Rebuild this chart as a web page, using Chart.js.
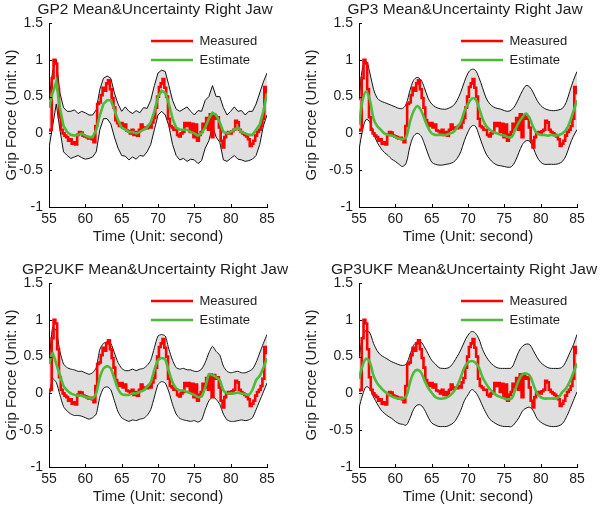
<!DOCTYPE html>
<html><head><meta charset="utf-8">
<script src="https://cdn.jsdelivr.net/npm/chart.js@4/dist/chart.umd.min.js"></script>
<style>
html,body{margin:0;padding:0;background:#fff;overflow:hidden;width:600px;height:507px;position:relative}
canvas{position:absolute}
</style></head><body>
<canvas id="c0" width="300" height="250" style="left:0;top:0"></canvas>
<canvas id="c1" width="300" height="250" style="left:300px;top:0"></canvas>
<canvas id="c2" width="300" height="250" style="left:0;top:260px"></canvas>
<canvas id="c3" width="300" height="250" style="left:300px;top:260px"></canvas>
<script>
// ---------- data ----------
const titles = ['GP2 Mean&Uncertainty Right Jaw','GP3 Mean&Uncertainty Right Jaw','GP2UKF Mean&Uncertainty Right Jaw','GP3UKF Mean&Uncertainty Right Jaw'];
const xTitle = 'Time (Unit: second)';
const yTitle = 'Grip Force (Unit: N)';
const legendLabels = ['Measured','Estimate'];
const xTicks = [55,60,65,70,75,80,85];
const yTicks = [-1,-0.5,0,0.5,1,1.5];

const timeFine = [55,55.25,55.5,55.75,56,56.25,56.5,56.75,57,57.25,57.5,57.75,58,58.25,58.5,58.75,59,59.25,59.5,59.75,
60,60.25,60.5,60.75,61,61.25,61.5,61.75,62,62.25,62.5,62.75,63,63.25,63.5,63.75,64,64.25,64.5,64.75,
65,65.25,65.5,65.75,66,66.25,66.5,66.75,67,67.25,67.5,67.75,68,68.25,68.5,68.75,69,69.25,69.5,69.75,
70,70.25,70.5,70.75,71,71.25,71.5,71.75,72,72.25,72.5,72.75,73,73.25,73.5,73.75,74,74.25,74.5,74.75,
75,75.25,75.5,75.75,76,76.25,76.5,76.75,77,77.25,77.5,77.75,78,78.25,78.5,78.75,79,79.25,79.5,79.75,
80,80.25,80.5,80.75,81,81.25,81.5,81.75,82,82.25,82.5,82.75,83,83.25,83.5,83.75,84,84.25,84.5,84.75,85];

const measured = [0.04,0.05,0.75,1.00, 0.95,0.60,0.22,0.05, 0.00,-0.03,-0.05,-0.10, -0.08,-0.14,-0.12,-0.15, -0.02,0.02,0.01,-0.03,
-0.04,-0.05,-0.07,-0.06, -0.08,-0.12,0.10,0.40, 0.42,0.52,0.62,0.58, 0.68,0.72,0.60,0.48, 0.35,0.18,0.14,0.10,
0.14,0.08,0.12,0.04, 0.03,0.00,0.05,-0.02, 0.02,-0.03,0.05,0.12, 0.06,0.08,0.07,0.10, 0.08,0.15,0.21,0.35,
0.50,0.63,0.68,0.74, 0.62,0.50,0.20,0.10, 0.08,0.05,0.05,-0.02, -0.04,0.00,0.02,0.14, 0.10,0.14,0.02,0.13,
-0.05,0.12,-0.10,-0.02, 0.02,0.13,0.08,0.21, 0.05,0.26,-0.05,0.25, 0.20,0.22,0.08,-0.10, -0.19,-0.05,0.00,0.02,
0.00,0.03,0.05,0.17, 0.15,0.05,0.02,0.00, -0.02,-0.04,-0.08,-0.17, -0.14,-0.10,-0.03,0.02, 0.05,0.10,0.20,0.63, 0.55];

const timeCoarse = [55,55.5,56,56.5,57,57.5,58,58.5,59,59.5,60,60.5,61,61.5,62,62.5,63,63.5,64,64.5,
65,65.5,66,66.5,67,67.5,68,68.5,69,69.5,70,70.5,71,71.5,72,72.5,73,73.5,74,74.5,
75,75.5,76,76.5,77,77.5,78,78.5,79,79.5,80,80.5,81,81.5,82,82.5,83,83.5,84,84.5,85];

const gp2Estimate = [0.35,0.55,0.70,0.35,0.10,0.02,-0.02,-0.03,-0.02,0.00,-0.03,-0.05,-0.05,0.05,0.25,0.40,0.45,0.45,0.32,0.18,
0.08,0.05,0.02,0.02,0.00,0.02,0.05,0.08,0.15,0.30,0.50,0.58,0.55,0.40,0.20,0.08,0.05,0.05,0.05,0.02,
0.00,-0.03,0.00,0.08,0.20,0.28,0.25,0.15,0.02,0.00,0.02,0.05,0.08,0.02,0.00,-0.02,-0.02,0.05,0.12,0.30,0.55];
const gp2Upper = [0.45,0.85,1.00,0.55,0.35,0.30,0.30,0.32,0.27,0.30,0.28,0.25,0.25,0.32,0.60,0.75,0.78,0.75,0.55,0.40,
0.30,0.36,0.30,0.27,0.31,0.28,0.35,0.34,0.45,0.65,0.82,0.86,0.84,0.65,0.45,0.33,0.30,0.33,0.36,0.30,
0.25,0.31,0.30,0.45,0.50,0.65,0.50,0.50,0.35,0.25,0.30,0.36,0.30,0.31,0.25,0.30,0.30,0.40,0.55,0.70,0.82];
const gp2Lower = [-0.20,0.10,0.40,0.05,-0.25,-0.30,-0.34,-0.32,-0.30,-0.33,-0.35,-0.34,-0.32,-0.25,0.05,0.20,0.20,0.13,-0.05,-0.20,
-0.30,-0.31,-0.36,-0.32,-0.35,-0.30,-0.31,-0.25,-0.15,0.05,0.25,0.30,0.25,0.10,-0.15,-0.30,-0.36,-0.34,-0.38,-0.35,
-0.36,-0.41,-0.37,-0.20,-0.10,0.10,-0.05,-0.12,-0.36,-0.38,-0.34,-0.30,-0.35,-0.36,-0.38,-0.37,-0.35,-0.30,-0.15,0.10,0.25];

const gp3Estimate = [0.12,0.45,0.57,0.45,0.20,0.10,0.05,0.00,-0.02,-0.03,-0.05,-0.07,-0.08,-0.05,0.15,0.30,0.37,0.32,0.20,0.08,
0.00,-0.02,-0.02,-0.02,-0.02,0.00,0.02,0.08,0.15,0.30,0.40,0.47,0.47,0.35,0.20,0.10,0.05,0.02,0.00,-0.02,
-0.03,-0.05,-0.05,0.05,0.15,0.22,0.27,0.20,0.08,0.00,-0.02,-0.02,-0.03,-0.02,-0.03,-0.02,0.00,0.05,0.15,0.30,0.45];
const gp3Upper = [0.45,0.90,0.98,0.82,0.60,0.48,0.44,0.42,0.40,0.38,0.36,0.34,0.34,0.40,0.58,0.72,0.76,0.73,0.62,0.48,
0.40,0.36,0.34,0.33,0.33,0.35,0.38,0.45,0.56,0.70,0.82,0.87,0.86,0.76,0.62,0.48,0.40,0.36,0.34,0.33,
0.31,0.30,0.32,0.38,0.48,0.58,0.65,0.63,0.55,0.45,0.38,0.34,0.32,0.31,0.31,0.32,0.34,0.42,0.57,0.72,0.84];
const gp3Lower = [-0.23,0.05,0.19,0.15,0.00,-0.12,-0.20,-0.26,-0.30,-0.35,-0.38,-0.42,-0.45,-0.40,-0.18,-0.04,0.00,-0.03,-0.14,-0.28,
-0.39,-0.42,-0.43,-0.43,-0.42,-0.41,-0.39,-0.34,-0.25,-0.10,0.02,0.10,0.10,-0.02,-0.16,-0.28,-0.35,-0.40,-0.43,-0.44,
-0.45,-0.46,-0.45,-0.38,-0.26,-0.15,-0.10,-0.11,-0.20,-0.32,-0.39,-0.42,-0.42,-0.42,-0.42,-0.41,-0.38,-0.30,-0.16,-0.04,0.05];

const gp2ukfEstimate = [0.40,0.55,0.40,0.25,0.10,0.04,0.00,-0.02,-0.03,-0.03,-0.05,-0.06,-0.07,0.00,0.22,0.34,0.37,0.34,0.20,0.06,
-0.01,-0.02,-0.02,0.00,0.00,0.02,0.04,0.09,0.15,0.32,0.45,0.48,0.46,0.30,0.15,0.07,0.04,0.04,0.02,0.00,
-0.02,-0.05,-0.04,0.08,0.26,0.25,0.22,0.18,0.04,0.00,0.00,0.00,0.01,0.00,-0.01,-0.02,0.05,0.18,0.24,0.35,0.48];
const gp2ukfUpper = [0.40,0.90,0.85,0.57,0.40,0.35,0.33,0.32,0.30,0.30,0.28,0.26,0.28,0.35,0.60,0.68,0.70,0.68,0.55,0.42,
0.34,0.31,0.31,0.33,0.31,0.33,0.34,0.38,0.45,0.62,0.78,0.80,0.78,0.60,0.45,0.35,0.33,0.34,0.32,0.32,
0.30,0.30,0.33,0.42,0.55,0.64,0.57,0.52,0.37,0.30,0.28,0.29,0.30,0.28,0.28,0.30,0.33,0.42,0.55,0.68,0.80];
const gp2ukfLower = [-0.05,0.20,0.15,-0.02,-0.18,-0.24,-0.28,-0.30,-0.30,-0.31,-0.33,-0.35,-0.33,-0.28,-0.05,0.07,0.09,0.05,-0.10,-0.25,
-0.33,-0.36,-0.38,-0.36,-0.37,-0.35,-0.34,-0.30,-0.22,-0.05,0.12,0.16,0.14,0.02,-0.15,-0.28,-0.34,-0.36,-0.37,-0.38,
-0.37,-0.39,-0.36,-0.22,-0.10,-0.05,-0.08,-0.15,-0.28,-0.36,-0.38,-0.38,-0.37,-0.36,-0.37,-0.36,-0.33,-0.22,-0.10,0.02,0.14];

const gp3ukfEstimate = [0.20,0.38,0.47,0.42,0.24,0.14,0.08,0.03,-0.01,-0.04,-0.06,-0.07,-0.07,-0.04,0.14,0.28,0.32,0.29,0.18,0.08,
0.01,-0.05,-0.07,-0.07,-0.06,-0.03,0.02,0.10,0.22,0.35,0.42,0.44,0.42,0.35,0.22,0.13,0.06,0.01,-0.03,-0.05,
-0.07,-0.08,-0.07,0.05,0.18,0.26,0.27,0.24,0.12,0.00,-0.05,-0.07,-0.07,-0.07,-0.07,-0.05,0.02,0.07,0.16,0.28,0.41];
const gp3ukfUpper = [0.48,0.76,0.86,0.82,0.68,0.58,0.52,0.49,0.46,0.43,0.41,0.39,0.38,0.40,0.52,0.65,0.70,0.70,0.63,0.54,
0.45,0.40,0.35,0.34,0.34,0.36,0.42,0.50,0.59,0.70,0.79,0.84,0.82,0.74,0.60,0.50,0.43,0.38,0.35,0.34,
0.34,0.34,0.35,0.45,0.57,0.64,0.67,0.66,0.58,0.49,0.42,0.38,0.35,0.34,0.34,0.34,0.36,0.44,0.55,0.66,0.80];
const gp3ukfLower = [-0.20,-0.02,0.09,0.06,-0.05,-0.14,-0.22,-0.27,-0.31,-0.34,-0.38,-0.41,-0.42,-0.43,-0.34,-0.22,-0.16,-0.16,-0.22,-0.32,
-0.40,-0.43,-0.45,-0.45,-0.45,-0.43,-0.40,-0.33,-0.23,-0.10,-0.02,0.05,0.02,-0.06,-0.17,-0.27,-0.35,-0.39,-0.42,-0.44,
-0.45,-0.45,-0.45,-0.40,-0.33,-0.24,-0.20,-0.19,-0.24,-0.34,-0.39,-0.42,-0.44,-0.45,-0.45,-0.44,-0.41,-0.33,-0.22,-0.10,0.02];

// ---------- rendering ----------
const FONT = "'Liberation Sans', Arial, Helvetica, sans-serif";
const TXT = '#1e1e1e';
const panels = [
  {id:'c0', title:titles[0], est:gp2Estimate, up:gp2Upper, lo:gp2Lower, yw:49, rp:33, tc:155, tension:0},
  {id:'c1', title:titles[1], est:gp3Estimate, up:gp3Upper, lo:gp3Lower, yw:59, rp:23, tc:165, tension:0.35},
  {id:'c2', title:titles[2], est:gp2ukfEstimate, up:gp2ukfUpper, lo:gp2ukfLower, yw:49, rp:33, tc:155, tension:0.2},
  {id:'c3', title:titles[3], est:gp3ukfEstimate, up:gp3ukfUpper, lo:gp3ukfLower, yw:59, rp:23, tc:164, tension:0.4}
];
function pts(xs, ys){ return ys.map((y,i)=>({x:xs[i], y:y})); }

const boxMove = {
  id:'boxMove',
  afterLayout(chart, args, opts){
    const ca = chart.chartArea;
    const lg = chart.legend;
    if(lg){
      const w = lg.width || 120;
      lg.left = ca.left + 96; lg.top = ca.top + 5.5;
      lg.right = lg.left + w + 10; lg.bottom = lg.top + 52;
      lg.width = lg.right - lg.left; lg.height = 52;
    }
    const tb = chart.titleBlock;
    if(tb && opts && opts.center){
      tb.left = opts.center - 150; tb.right = opts.center + 150; tb.width = 300;
    }
  }
};
const inwardTicks = {
  id:'inwardTicks',
  afterDraw(chart){
    const {ctx, chartArea:ca} = chart; const sx = chart.scales.x, sy = chart.scales.y;
    ctx.save(); ctx.strokeStyle='#000'; ctx.lineWidth=1; ctx.beginPath();
    xTicks.forEach(v=>{ const px=Math.round(sx.getPixelForValue(v))+0.5; ctx.moveTo(px, ca.bottom); ctx.lineTo(px, ca.bottom-3); });
    yTicks.forEach(v=>{ const py=Math.round(sy.getPixelForValue(v))+0.5; ctx.moveTo(ca.left, py); ctx.lineTo(ca.left+3, py); });
    ctx.stroke(); ctx.restore();
  }
};

panels.forEach(p=>{
  new Chart(document.getElementById(p.id), {
    type:'line',
    data:{ datasets:[
      {label:legendLabels[0], data:pts(timeFine, measured), borderColor:'#ff0000', backgroundColor:'#ff0000', borderWidth:2.6, pointRadius:0, tension:0, stepped:'middle', order:2, fill:false},
      {label:legendLabels[1], data:pts(timeCoarse, p.est), borderColor:'#4dbb3a', backgroundColor:'#4dbb3a', borderWidth:2.6, pointRadius:0, tension:p.tension, order:1, fill:false},
      {label:'upper', data:pts(timeCoarse, p.up), borderColor:'#111', backgroundColor:'#dfdfdf', borderWidth:1, pointRadius:0, tension:p.tension, order:3, fill:'+1'},
      {label:'lower', data:pts(timeCoarse, p.lo), borderColor:'#111', backgroundColor:'#dfdfdf', borderWidth:1, pointRadius:0, tension:p.tension, order:4, fill:false}
    ]},
    options:{
      responsive:false, animation:false, devicePixelRatio:1,
      layout:{padding:{left:0, right:p.rp, top:0, bottom:0}},
      plugins:{
        boxMove:{center:p.tc},
        title:{display:true, text:p.title, color:TXT, font:{family:FONT, size:15.5, weight:'normal'}, padding:{top:0, bottom:4.4}},
        legend:{display:true, position:'chartArea', align:'start',
          labels:{color:TXT, font:{family:FONT, size:13}, usePointStyle:true, pointStyle:'line', pointStyleWidth:42, boxWidth:42, padding:6,
            filter:(it)=>it.datasetIndex<2, sort:(a,b)=>a.datasetIndex-b.datasetIndex}},
        filler:{drawTime:'beforeDatasetsDraw'},
        tooltip:{enabled:false}
      },
      scales:{
        x:{type:'linear', min:55, max:85,
          afterBuildTicks:(s)=>{ s.ticks = xTicks.map(v=>({value:v})); },
          afterFit:(s)=>{ s.height = 43; },
          grid:{display:true, drawOnChartArea:false, drawTicks:false},
          border:{display:true, color:'#000', width:1},
          ticks:{color:TXT, font:{family:FONT, size:14}, padding:4, maxRotation:0, autoSkip:false},
          title:{display:true, text:xTitle, color:TXT, font:{family:FONT, size:15}, padding:{top:0, bottom:4}}},
        y:{type:'linear', min:-1, max:1.5,
          afterBuildTicks:(s)=>{ s.ticks = yTicks.map(v=>({value:v})); },
          afterFit:(s)=>{ s.width = p.yw; },
          grid:{display:true, drawOnChartArea:false, drawTicks:false},
          border:{display:true, color:'#000', width:1},
          ticks:{color:TXT, font:{family:FONT, size:14}, padding:6, autoSkip:false, callback:(v)=>String(v)},
          title:{display:true, text:yTitle, color:TXT, font:{family:FONT, size:15}, padding:{top:3, bottom:0}}}
      }
    },
    plugins:[boxMove, inwardTicks]
  });
});
</script>
</body></html>
